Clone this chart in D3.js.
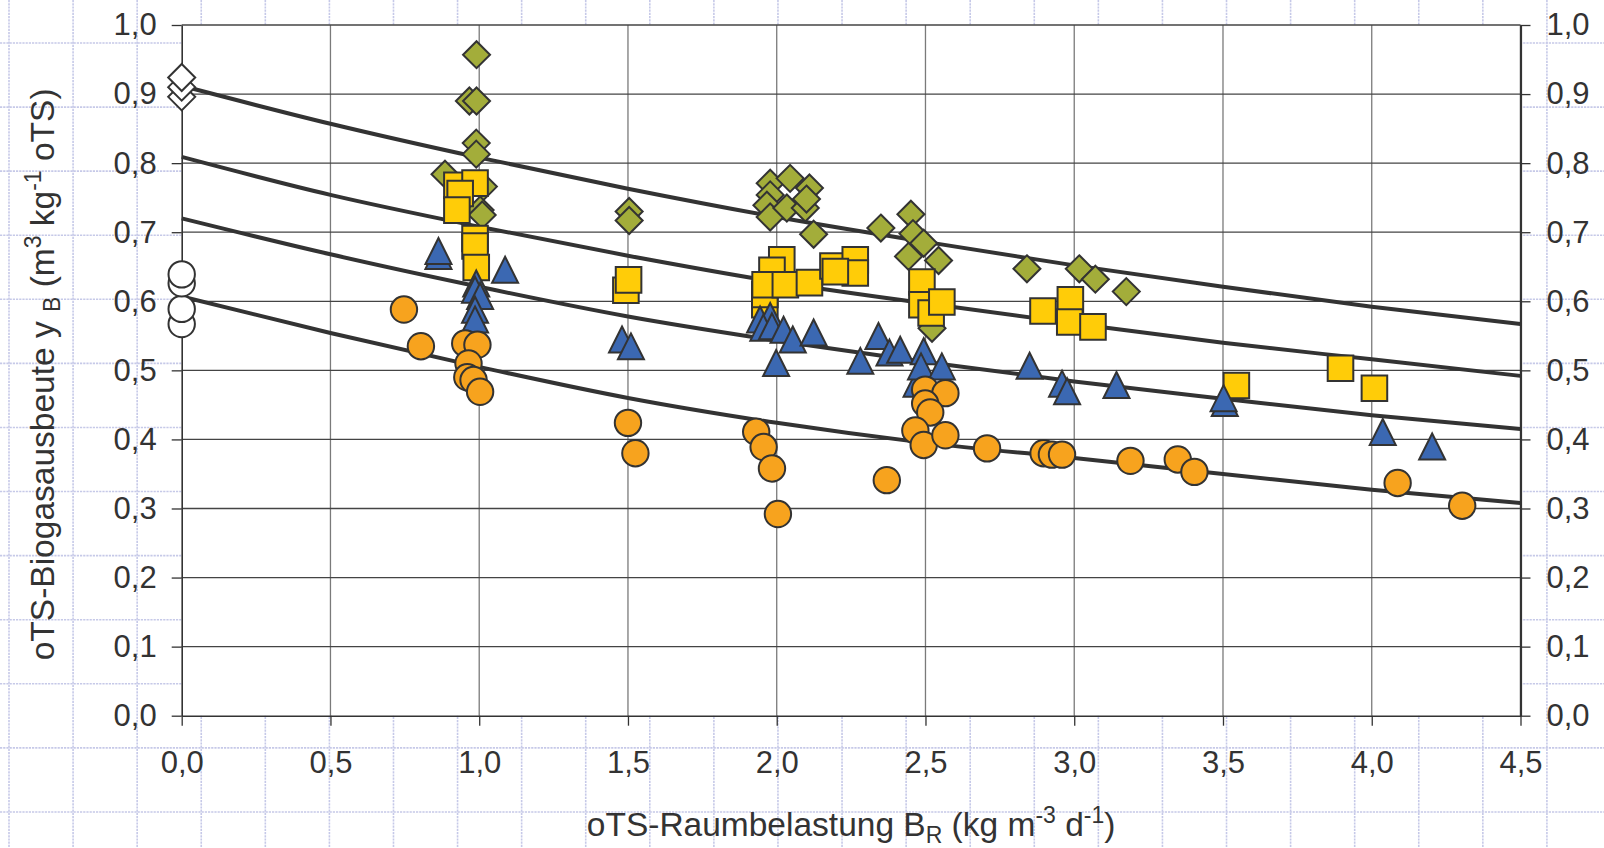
<!DOCTYPE html>
<html lang="de">
<head>
<meta charset="UTF-8">
<title>oTS-Biogasausbeute</title>
<script src="https://cdn.jsdelivr.net/npm/d3@7"></script>
<style>
    body { margin: 0; background: #fff; }
    svg text { font-family: "Liberation Sans", Arial, Helvetica, sans-serif; fill: #333; }
</style>
</head>
<body>
<svg id="chart" width="1604" height="848"></svg>
<script>
// fitted curves at every 0.5 step
const curveX = [0, 0.5, 1.0, 1.5, 2.0, 2.5, 3.0, 3.5, 4.0, 4.5];
const curveA = [0.912, 0.857, 0.808, 0.763, 0.722, 0.686, 0.652, 0.621, 0.592, 0.567];
const curveB = [0.809, 0.754, 0.708, 0.666, 0.628, 0.597, 0.568, 0.540, 0.516, 0.492];
const curveC = [0.720, 0.668, 0.621, 0.578, 0.543, 0.512, 0.484, 0.459, 0.435, 0.415];
const curveD = [0.607, 0.554, 0.505, 0.460, 0.424, 0.395, 0.373, 0.350, 0.327, 0.308];

// measured points [B_R, y_B]
const whiteDiamonds = [[0, 0.896], [0, 0.910], [0, 0.924]];
const whiteCircles = [[0, 0.567], [0, 0.589], [0, 0.626], [0, 0.639]];
const greenDiamonds = [
    [0.991, 0.957], [0.967, 0.890], [0.991, 0.890], [0.99, 0.829], [0.99, 0.813], [0.885, 0.784],
    [1.014, 0.766], [1.003, 0.732], [1.01, 0.725],
    [1.504, 0.730], [1.504, 0.717],
    [1.978, 0.771], [2.045, 0.778], [2.110, 0.764], [1.978, 0.754], [1.967, 0.739], [1.978, 0.722],
    [2.034, 0.735], [2.096, 0.735], [2.10, 0.748], [2.124, 0.697],
    [2.350, 0.706], [2.451, 0.726], [2.458, 0.698], [2.494, 0.684], [2.443, 0.665], [2.544, 0.659], [2.522, 0.561],
    [2.841, 0.647], [3.017, 0.647], [3.071, 0.632], [3.175, 0.614]
];
const yellowSquares = [
    [0.925, 0.768], [0.986, 0.771], [0.936, 0.756], [0.925, 0.732], [0.986, 0.691], [0.986, 0.680], [0.99, 0.649],
    [1.493, 0.616], [1.502, 0.631],
    [2.017, 0.660], [1.984, 0.645], [1.96, 0.595], [1.96, 0.610], [1.961, 0.624], [2.029, 0.624], [2.110, 0.627],
    [2.189, 0.651], [2.264, 0.660], [2.264, 0.641], [2.197, 0.643],
    [2.488, 0.628], [2.488, 0.595], [2.519, 0.583], [2.555, 0.599],
    [2.895, 0.586], [2.987, 0.602], [2.985, 0.570], [3.063, 0.563],
    [3.545, 0.478], [3.895, 0.503], [4.009, 0.474]
];
const blueTriangles = [
    [0.863, 0.665], [0.863, 0.672], [1.087, 0.645], [0.99, 0.625], [0.986, 0.616], [1.003, 0.607], [0.986, 0.587], [0.986, 0.573],
    [1.48, 0.544], [1.51, 0.534],
    [1.944, 0.573], [1.978, 0.578], [1.955, 0.561], [1.984, 0.563], [2.023, 0.558], [2.054, 0.544], [2.124, 0.554],
    [1.998, 0.510], [2.281, 0.513], [2.342, 0.549],
    [2.379, 0.525], [2.415, 0.529], [2.494, 0.527], [2.47, 0.480], [2.485, 0.505], [2.555, 0.505],
    [2.850, 0.506], [2.959, 0.480], [2.976, 0.469], [3.142, 0.478], [3.506, 0.452], [3.502, 0.459],
    [4.037, 0.410], [4.203, 0.389]
];
const orangeCircles = [
    [0.747, 0.588], [0.804, 0.535], [0.953, 0.539], [0.994, 0.537], [0.964, 0.510], [0.96, 0.490], [0.981, 0.486], [1.003, 0.469],
    [1.50, 0.424], [1.525, 0.380],
    [1.931, 0.411], [1.956, 0.389], [1.984, 0.358], [2.004, 0.292], [2.37, 0.341],
    [2.499, 0.472], [2.567, 0.467], [2.499, 0.452], [2.516, 0.439], [2.466, 0.413], [2.494, 0.392], [2.567, 0.406], [2.707, 0.387],
    [2.897, 0.380], [2.925, 0.378], [2.959, 0.378], [3.189, 0.369], [3.348, 0.371], [3.404, 0.353],
    [4.087, 0.337], [4.304, 0.304]
];
const yTicks = d3.range(0, 11).map(d => d / 10);
const xTicks = d3.range(0, 10).map(d => d / 2);

const width = 1604, height = 848;
const margin = {left: 181.7, right: 83.5, top: 25, bottom: 132.3};
const ink = '#333';

const svg = d3.select('#chart');
const x = d3.scaleLinear().domain([0, 4.5]).range([margin.left, width - margin.right]);
const y = d3.scaleLinear().domain([0, 1]).range([height - margin.bottom, margin.top]);
const fmt = d => d3.format('.1f')(d).replace('.', ',');

// spreadsheet cell grid behind the chart
const sheet = svg.append('g').attr('stroke', '#c6c9e8').attr('stroke-width', 1.6).attr('stroke-dasharray', '2.2,1');
d3.range(9, width, 64.08).forEach(v => sheet.append('line').attr('x1', v).attr('x2', v).attr('y1', 0).attr('y2', height));
d3.range(43, height, 64.08).forEach(v => sheet.append('line').attr('x1', 0).attr('x2', width).attr('y1', v).attr('y2', v));

svg.append('rect').attr('x', x(0)).attr('y', y(1)).attr('width', x(4.5) - x(0)).attr('height', y(0) - y(1)).attr('fill', '#fff');

// grid lines
svg.append('g').selectAll('line').data(xTicks.slice(1))
    .join('line').attr('x1', d => x(d)).attr('x2', d => x(d)).attr('y1', y(0)).attr('y2', y(1))
    .attr('stroke', '#7a7a7a').attr('stroke-width', 1.3);
svg.append('g').selectAll('line').data(yTicks.slice(1))
    .join('line').attr('x1', x(0)).attr('x2', x(4.5)).attr('y1', d => y(d)).attr('y2', d => y(d))
    .attr('stroke', '#444').attr('stroke-width', 1.3);

// axes
const styleAxis = g => {
    g.select('.domain').attr('stroke', ink).attr('stroke-width', 1.6);
    g.selectAll('.tick line').attr('stroke', ink).attr('stroke-width', 1.3);
    g.selectAll('.tick text').attr('font-size', 31).attr('fill', ink);
};
svg.append('g').attr('transform', `translate(${x(0)},0)`)
    .call(d3.axisLeft(y).tickValues(yTicks).tickFormat(fmt).tickSize(10).tickPadding(15).tickSizeOuter(0))
    .call(styleAxis);
svg.append('g').attr('transform', `translate(${x(4.5)},0)`)
    .call(d3.axisRight(y).tickValues(yTicks).tickFormat(fmt).tickSize(10).tickPadding(16).tickSizeOuter(0))
    .call(styleAxis).call(g => g.select('.domain').attr('stroke-width', 2.2));
svg.append('g').attr('transform', `translate(0,${y(0)})`)
    .call(d3.axisBottom(x).tickValues(xTicks).tickFormat(fmt).tickSize(10).tickPadding(25).tickSizeOuter(0))
    .call(styleAxis);

// curves
const line = d3.line().curve(d3.curveMonotoneX).x((d, i) => x(curveX[i])).y(d => y(d));
svg.append('g').selectAll('path').data([curveA, curveB, curveC, curveD])
    .join('path').attr('d', line).attr('fill', 'none').attr('stroke', ink).attr('stroke-width', 4);

// markers
const shapes = {
    diamond: 'M0,-13.5L13.5,0L0,13.5L-13.5,0Z',
    square: 'M-12.8,-12.8H12.8V12.8H-12.8Z',
    triangle: 'M0,-13.5L13,12.5H-13Z',
    circle: d3.symbol(d3.symbolCircle, Math.PI * 13.2 * 13.2)()
};
const series = [
    {data: whiteDiamonds, shape: 'diamond', fill: '#fff'},
    {data: whiteCircles, shape: 'circle', fill: '#fff'},
    {data: greenDiamonds, shape: 'diamond', fill: '#a3ad3a'},
    {data: yellowSquares, shape: 'square', fill: '#ffcc08'},
    {data: blueTriangles, shape: 'triangle', fill: '#3b68b2'},
    {data: orangeCircles, shape: 'circle', fill: '#f7a31e'}
];
series.forEach(s => {
    svg.append('g').selectAll('path').data(s.data)
        .join('path').attr('d', shapes[s.shape])
        .attr('transform', d => `translate(${x(d[0])},${y(d[1])})`)
        .attr('fill', s.fill).attr('stroke', ink).attr('stroke-width', 2);
});

// axis titles
const yTitle = svg.append('text').attr('transform', `translate(54,${(y(0) + y(1)) / 2 + 4}) rotate(-90)`)
    .attr('text-anchor', 'middle').attr('font-size', 33.5);
yTitle.append('tspan').text('oTS-Biogasausbeute y ');
yTitle.append('tspan').text('B').attr('font-size', 23).attr('dy', 6);
yTitle.append('tspan').text(' (m').attr('dy', -6);
yTitle.append('tspan').text('3').attr('font-size', 23).attr('dy', -13);
yTitle.append('tspan').text(' kg').attr('dy', 13);
yTitle.append('tspan').text('-1').attr('font-size', 23).attr('dy', -13);
yTitle.append('tspan').text(' oTS)').attr('dy', 13);

const xTitle = svg.append('text').attr('x', (x(0) + x(4.5)) / 2).attr('y', 836)
    .attr('text-anchor', 'middle').attr('font-size', 33.5);
xTitle.append('tspan').text('oTS-Raumbelastung B');
xTitle.append('tspan').text('R').attr('font-size', 23).attr('dy', 7);
xTitle.append('tspan').text(' (kg m').attr('dy', -7);
xTitle.append('tspan').text('-3').attr('font-size', 23).attr('dy', -13);
xTitle.append('tspan').text(' d').attr('dy', 13);
xTitle.append('tspan').text('-1').attr('font-size', 23).attr('dy', -13);
xTitle.append('tspan').text(')').attr('dy', 13);
</script>
</body>
</html>
